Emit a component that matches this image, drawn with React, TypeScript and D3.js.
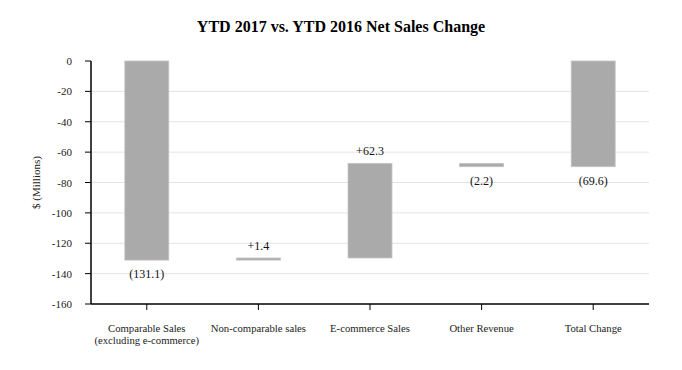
import { useMemo } from "react";
import * as d3 from "d3";

const categorias = ["Comparable Sales|(excluding e-commerce)", "Non-comparable sales", "E-commerce Sales", "Other Revenue", "Total Change"];
const cambios = [-131.1, 1.4, 62.3, -2.2];
const totalCambio = -69.6;
const ticksY = [0, -20, -40, -60, -80, -100, -120, -140, -160];

const ANCHO = 682;
const ALTO = 370;
const FUENTE = "'Liberation Serif', 'Times New Roman', serif";

interface Tramo {
  categoria: string;
  inicio: number;
  fin: number;
  valor: number;
}

export default function App() {
  const margen = { top: 61, right: 33, bottom: 66, left: 91 };
  const anchoInterno = ANCHO - margen.left - margen.right;
  const altoInterno = ALTO - margen.top - margen.bottom;

  // Tramos de la cascada: cada uno arranca donde terminó el anterior, y el total desde cero.
  const tramos = useMemo(() => {
    let acumulado = 0;
    const res: Tramo[] = cambios.map((v, i) => {
      const t = { categoria: categorias[i], inicio: acumulado, fin: acumulado + v, valor: v };
      acumulado += v;
      return t;
    });
    res.push({ categoria: categorias[4], inicio: 0, fin: totalCambio, valor: totalCambio });
    return res;
  }, []);

  const x = d3.scaleBand().domain(categorias).range([0, anchoInterno]).paddingInner(0.606).paddingOuter(0.303);
  const y = d3.scaleLinear().domain([-160, 0]).range([altoInterno, 0]);

  const etiqueta = (t: Tramo, i: number) => {
    if (i === tramos.length - 1) return `(${Math.abs(t.valor).toFixed(1)})`;
    return t.valor >= 0 ? `+${t.valor.toFixed(1)}` : `(${Math.abs(t.valor).toFixed(1)})`;
  };

  return (
    <svg width={ANCHO} height={ALTO} style={{ position: "absolute", left: 0, top: 0, background: "#fff" }} fontFamily={FUENTE}>
      <text x={ANCHO / 2} y={32} textAnchor="middle" fontSize={16} fontWeight="bold" fill="#000">
        YTD 2017 vs. YTD 2016 Net Sales Change
      </text>
      <text transform={`translate(36,${margen.top + altoInterno / 2}) rotate(-90)`} textAnchor="middle" dominantBaseline="central" fontSize={11} fill="#222">
        $ (Millions)
      </text>
      <g transform={`translate(${margen.left},${margen.top})`}>
        {ticksY.map((t) => (
          <g key={t}>
            {t !== -160 && t !== 0 && <line x1={0} x2={anchoInterno} y1={y(t)} y2={y(t)} stroke="#e4e4e4" strokeWidth={1} />}
            <line x1={-6} x2={0} y1={y(t)} y2={y(t)} stroke="#000" strokeWidth={1} />
            <text x={-19} y={y(t)} textAnchor="end" dominantBaseline="central" fontSize={11} fill="#222">
              {t}
            </text>
          </g>
        ))}
        {tramos.map((t, i) => {
          const x0 = x(t.categoria) || 0;
          const arriba = y(Math.max(t.inicio, t.fin));
          const abajo = y(Math.min(t.inicio, t.fin));
          const sube = t.valor >= 0 && i < tramos.length - 1;
          return (
            <g key={t.categoria}>
              <rect x={x0} y={arriba} width={x.bandwidth()} height={Math.max(abajo - arriba, 1)} fill="#aaaaaa" stroke="#c4c4c4" strokeWidth={0.8} />
              <text
                x={x0 + x.bandwidth() / 2}
                y={sube ? arriba - 12 : abajo + 14}
                textAnchor="middle"
                dominantBaseline="central"
                fontSize={12}
                fill="#111"
              >
                {etiqueta(t, i)}
              </text>
            </g>
          );
        })}
        <line x1={0} x2={0} y1={0} y2={altoInterno} stroke="#000" strokeWidth={1.5} />
        <line x1={0} x2={anchoInterno} y1={altoInterno} y2={altoInterno} stroke="#000" strokeWidth={1.5} />
        {categorias.map((c) => {
          const cx = (x(c) || 0) + x.bandwidth() / 2;
          const lineas = c.split("|");
          return (
            <g key={c}>
              <line x1={cx} x2={cx} y1={altoInterno} y2={altoInterno + 6} stroke="#000" strokeWidth={1} />
              {lineas.map((l, j) => (
                <text key={l} x={cx} y={altoInterno + 24 + j * 12} textAnchor="middle" dominantBaseline="central" fontSize={10.7} fill="#222">
                  {l}
                </text>
              ))}
            </g>
          );
        })}
      </g>
    </svg>
  );
}
